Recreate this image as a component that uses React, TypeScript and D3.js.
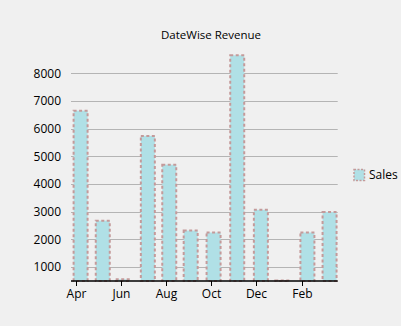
import React from "react";
import * as d3 from "d3";

const barDates = [
  "2015-04-07", "2015-05-07", "2015-06-03", "2015-07-07", "2015-08-05", "2015-09-03",
  "2015-10-04", "2015-11-05", "2015-12-07", "2016-01-05", "2016-02-08", "2016-03-09",
];
const salesValues = [6650, 2680, 560, 5740, 4700, 2320, 2250, 8650, 3070, 520, 2250, 2990];
const xTickDates = ["2015-04-01", "2015-06-01", "2015-08-01", "2015-10-01", "2015-12-01", "2016-02-01"];
const yTicks = [1000, 2000, 3000, 4000, 5000, 6000, 7000, 8000];
const title = "DateWise Revenue";
const seriesName = "Sales";

const parse = (s: string) => new Date(s + "T00:00:00");
const fmt = d3.timeFormat("%b");

export default function App() {
  const W = 401, H = 326;
  const left = 71, right = 337.7, top = 55, bottom = 281;
  const x = d3.scaleTime()
    .domain([parse("2015-03-25"), parse("2016-03-20")])
    .range([left, right]);
  const y = d3.scaleLinear().domain([500, 8650]).range([bottom, top + 0.3]);
  const barW = 14;
  const font = "'Open Sans', 'Noto Sans', sans-serif";
  const fill = "#B0E0E6";
  const stroke = "#C49A9A";
  return (
    <svg width={W} height={H} style={{ position: "absolute", left: 0, top: 0, background: "#F0F0F0" }}>
      <rect x={0} y={0} width={W} height={H} fill="#F0F0F0" />
      <text x={211} y={39} textAnchor="middle" fontFamily={font} fontSize={11.5} fill="#000">{title}</text>
      {yTicks.map((t) => (
        <g key={t}>
          <line x1={left} x2={right} y1={Math.round(y(t)) + 0.5} y2={Math.round(y(t)) + 0.5} stroke="#B4B4B4" strokeWidth={1} />
          <text x={61} y={y(t)} dy="0.35em" textAnchor="end" fontFamily={font} fontSize={12} fill="#000">{t}</text>
        </g>
      ))}
      {barDates.map((d, i) => {
        const cx = x(parse(d));
        const yt = y(salesValues[i]);
        return (
          <rect key={d} x={cx - barW / 2} y={yt} width={barW} height={Math.max(0.5, bottom - yt)}
            fill={fill} stroke={stroke} strokeWidth={2} strokeDasharray="3 2.5" />
        );
      })}
      <line x1={left} x2={right} y1={281} y2={281} stroke="#000" strokeWidth={1.5} />
      {xTickDates.map((d) => {
        const tx = Math.round(x(parse(d))) + 0.5;
        return (
          <g key={d}>
            <line x1={tx} x2={tx} y1={281} y2={286} stroke="#000" strokeWidth={1} />
            <text x={tx} y={298} textAnchor="middle" fontFamily={font} fontSize={12} fill="#000">{fmt(parse(d))}</text>
          </g>
        );
      })}
      <rect x={354} y={169.5} width={10.5} height={11} fill={fill} stroke={stroke} strokeWidth={1.5} strokeDasharray="2 1.5" />
      <text x={369} y={179} fontFamily={font} fontSize={12} fill="#000">{seriesName}</text>
    </svg>
  );
}
